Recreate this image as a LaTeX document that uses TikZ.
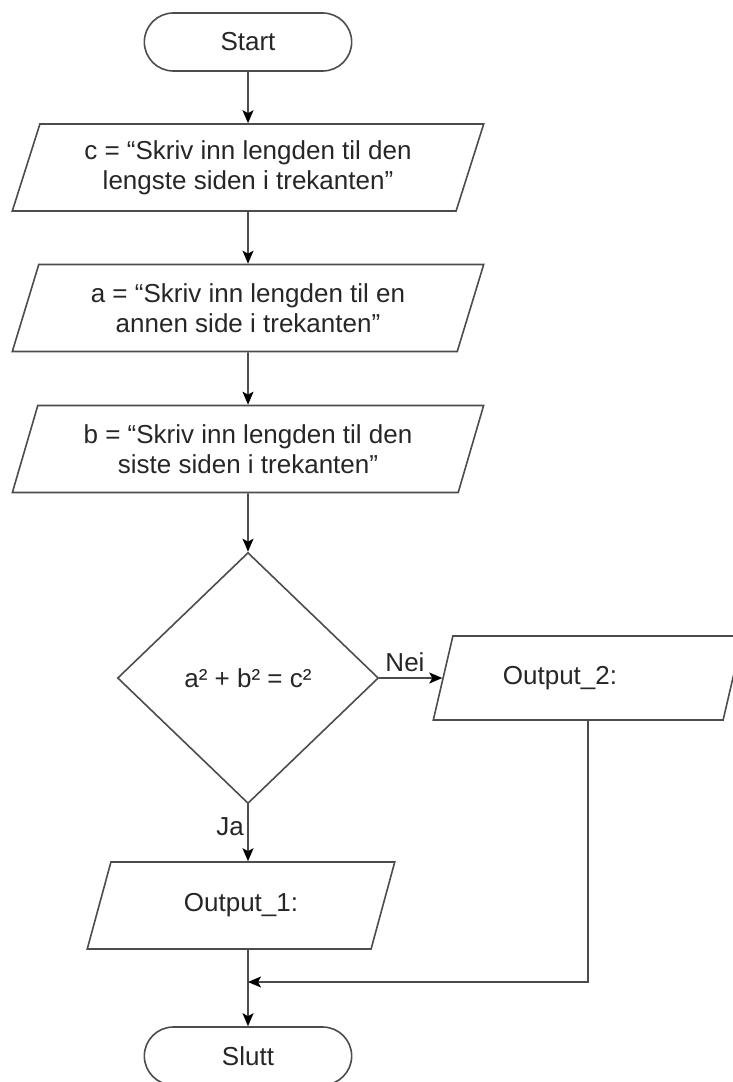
\documentclass[tikz,border=0pt]{standalone}
\usepackage{fontspec}
\setmainfont{Liberation Sans}
\usetikzlibrary{shapes.geometric,shapes.misc,arrows.meta}

\begin{document}
\begin{tikzpicture}
[x=1pt, y=-1pt,
every node/.style={font=\fontsize{26}{30}\selectfont, text=black!85},
terminal/.style={rounded rectangle, draw=black!70, line width=1.6pt, minimum width=214pt, minimum height=58pt},
iobox/.style={trapezium, trapezium left angle=70, trapezium right angle=110, trapezium stretches=true, draw=black!70, line width=1.6pt, minimum width=472pt, minimum height=87pt, align=center},
decision/.style={diamond, draw=black!70, line width=1.6pt, minimum width=261pt, minimum height=251pt, inner sep=0pt},
textbox/.style={inner sep=0pt},
myarrow/.style={-{Stealth[length=13pt,width=11pt,inset=3pt,black]}, draw=black!70, line width=1.6pt}
]
\useasboundingbox (0,0) rectangle (732,1082);

%inputs
\node at (248,42) [terminal] (start) {Start};
\node at (248,167.5) [iobox] (in1) {c = “Skriv inn lengden til den\\lengste siden i trekanten”};
\node at (248,308) [iobox] (in2) {a = “Skriv inn lengden til en\\annen side i trekanten”};
\node at (248,449) [iobox] (in3) {b = “Skriv inn lengden til den\\siste siden i trekanten”};

%test
\node at (248,678) [decision] (dec) {a² + b² = c²};
\node at (405,662) [textbox] (nei) {Nei};
\node at (230,827) [textbox] (ja) {Ja};

%outputs
\node at (241,905.5) [iobox, minimum width=308pt] (out1) {Output\_1:};
\node at (588,678) [iobox, minimum width=310pt, minimum height=84pt, trapezium left angle=67, trapezium right angle=113] (out2) {Output\_2:\hspace*{56pt}};
\node at (248,1056) [terminal] (slutt) {Slutt};
\coordinate (join) at (248,982);

\draw[myarrow] (start) -- (in1);
\draw[myarrow] (in1) -- (in2);
\draw[myarrow] (in2) -- (in3);
\draw[myarrow] (in3) -- (dec);
\draw[myarrow] (dec) -- (out2);
\draw[myarrow] (dec.south) -- (dec.south |- out1.north);
\draw[myarrow] (dec.south |- out1.south) -- (slutt);
\draw[myarrow] (out2.south) |- (join);

\end{tikzpicture}
\end{document}
